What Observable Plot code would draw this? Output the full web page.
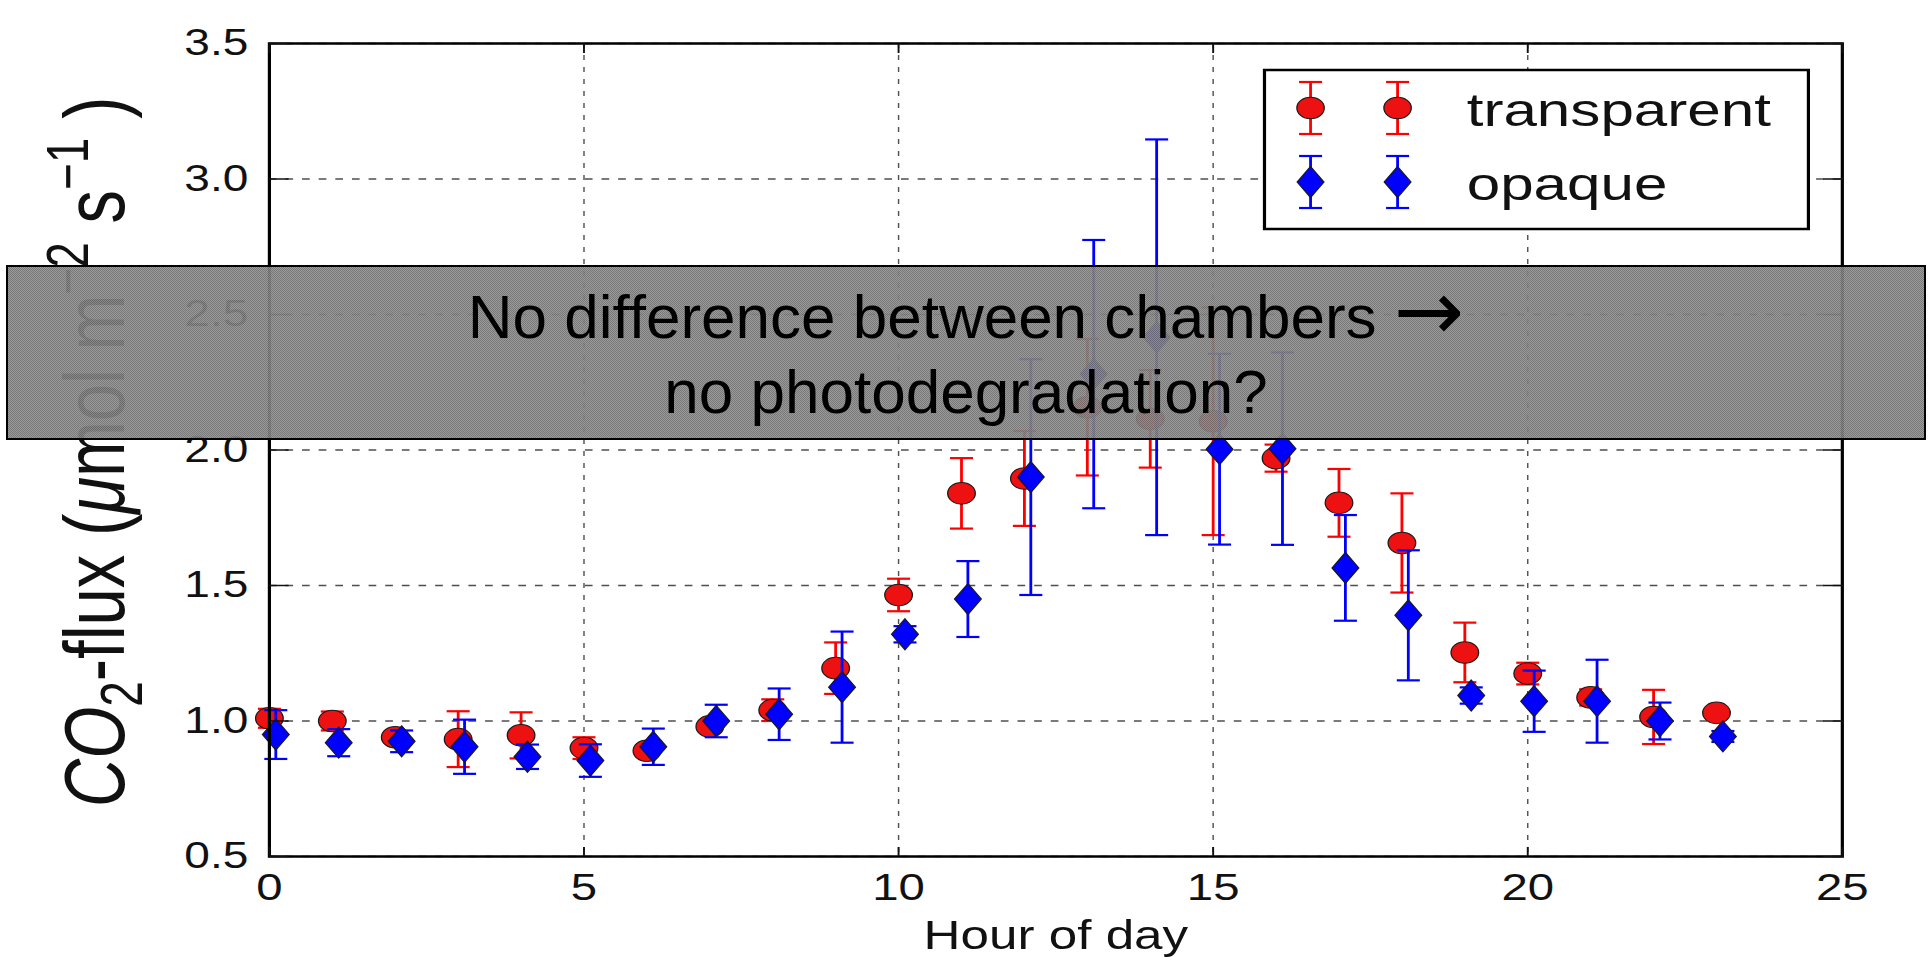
<!DOCTYPE html>
<html><head><meta charset="utf-8">
<script src="https://cdn.jsdelivr.net/npm/d3@7"></script>
<script src="https://cdn.jsdelivr.net/npm/@observablehq/plot@0.6"></script>
<style>
html,body{margin:0;padding:0;background:#fff;width:1930px;height:957px;overflow:hidden;}
#wrap{position:absolute;left:0;top:0;transform-origin:0 0;}
#note{position:absolute;left:6px;top:265px;width:1920px;height:175px;box-sizing:border-box;border:2px solid #000;
  background:repeating-conic-gradient(rgba(110,110,110,0.93) 0 25%, rgba(148,148,148,0.93) 0 50%) 0 0/2px 2px;
  font-family:"Liberation Sans",Arial,sans-serif;font-size:62px;line-height:75px;text-align:center;color:#000;padding-top:12px;}
#note .arrow{font-family:"DejaVu Sans",sans-serif;font-size:84px;line-height:0;vertical-align:-2px;}
</style></head><body>
<div id="wrap"></div>
<div id="note">No difference between chambers <span class="arrow">→</span><br>no photodegradation?</div>
<script>
// ---- data ----
const hours = [0,1,2,3,4,5,6,7,8,9,10,11,12,13,14,15,16,17,18,19,20,21,22,23];
const transparentMean = [1.01,1.00,0.94,0.933,0.947,0.90,0.89,0.98,1.04,1.195,1.465,1.84,1.895,2.158,2.115,2.106,1.97,1.805,1.657,1.253,1.175,1.087,1.015,1.03];
const transparentErr  = [0.035,0.035,0.02,0.103,0.085,0.04,0.02,0.02,0.04,0.095,0.06,0.13,0.175,0.252,0.18,0.42,0.05,0.125,0.183,0.11,0.04,0.03,0.10,0.02];
const opaqueMean = [0.95,0.92,0.925,0.905,0.868,0.854,0.905,1.0,1.025,1.125,1.32,1.45,1.9,2.28,2.416,2.003,2.005,1.565,1.39,1.094,1.073,1.073,1.0,0.943];
const opaqueErr  = [0.09,0.05,0.04,0.10,0.045,0.06,0.067,0.06,0.095,0.205,0.03,0.14,0.435,0.495,0.73,0.352,0.355,0.195,0.24,0.03,0.113,0.153,0.068,0.02];
const seriesNames = ["transparent","opaque"];
const xTicks = [0,5,10,15,20,25];
const yTicks = [0.5,1.0,1.5,2.0,2.5,3.0,3.5];
const xLabel = "Hour of day";

// ---- layout (chart drawn unstretched, then stretched horizontally like the source image) ----
const W = 1930, H = 957, STRETCH = 1.28;
const W0 = Math.round(W / STRETCH);
const sx = W / W0;
const RED = "#ff0000", REDFILL = "#ee1111", BLUE = "#0000ff";

const transparent = hours.map((h,i)=>({hour:h, mean:transparentMean[i], err:transparentErr[i]}));
const opaque = hours.map((h,i)=>({hour:h, mean:opaqueMean[i], err:opaqueErr[i]}));

const thinDiamond = {draw(ctx, size){const s=Math.sqrt(size/Math.PI);
  ctx.moveTo(0,-1.45*s); ctx.lineTo(0.98*s,0); ctx.lineTo(0,1.45*s); ctx.lineTo(-0.98*s,0); ctx.closePath();}};
const capLine = {draw(ctx, size){const s=Math.sqrt(size/Math.PI); ctx.moveTo(-s,0); ctx.lineTo(s,0);}};

function errorMarks(data, color, fill, symbol, dx){
  return [
    Plot.ruleX(data, {x:"hour", y1:d=>d.mean-d.err, y2:d=>d.mean+d.err, stroke:color, strokeWidth:2.2, dx}),
    Plot.dot(data, {x:"hour", y:d=>d.mean+d.err, symbol:capLine, r:9, stroke:color, fill:"none", strokeWidth:2.2, dx}),
    Plot.dot(data, {x:"hour", y:d=>d.mean-d.err, symbol:capLine, r:9, stroke:color, fill:"none", strokeWidth:2.2, dx}),
    Plot.dot(data, {x:"hour", y:"mean", symbol, r:symbol==="circle"?10.8:10.7, fill, stroke:"#1a1a1a", strokeWidth:1, dx})
  ];
}

const chart = Plot.plot({
  width: W0, height: H,
  marginLeft: 210, marginRight: 69, marginTop: 43, marginBottom: 101,
  x: {domain:[0,25]},
  y: {domain:[0.5,3.5]},
  style: {fontFamily:"'Liberation Sans', Arial, sans-serif", fontSize:"36px", color:"#111", background:"#fff", overflow:"visible"},
  marks: [
    Plot.gridX(xTicks, {stroke:"#222", strokeOpacity:0.8, strokeDasharray:"5,7", strokeWidth:1.1}),
    Plot.gridY(yTicks, {stroke:"#222", strokeOpacity:0.8, strokeDasharray:"6,7", strokeWidth:1.3}),
    ...errorMarks(transparent, RED, REDFILL, "circle", 0),
    ...errorMarks(opaque, BLUE, BLUE, thinDiamond, 5),
    Plot.frame({stroke:"#000", strokeWidth:2.5}),
    Plot.axisX(xTicks, {anchor:"bottom", tickSize:-9, tickPadding:26, strokeWidth:1.5, fontSize:37, label:null}),
    Plot.axisX(xTicks, {anchor:"bottom", tickSize:0, tickFormat:()=>"", fontSize:40,
      label:xLabel, labelAnchor:"center", labelArrow:"none", labelOffset:92}),
    Plot.axisX(xTicks, {anchor:"top", tickSize:-9, strokeWidth:1.5, tickFormat:()=>"", label:null}),
    Plot.axisY(yTicks, {anchor:"left", tickSize:-15.5, tickPadding:32, strokeWidth:1.5, fontSize:36,
      tickFormat:d3.format(".1f"), label:null}),
    Plot.axisY(yTicks, {anchor:"right", tickSize:-15.5, strokeWidth:1.5, tickFormat:()=>"", label:null})
  ]
});

const wrap = document.getElementById("wrap");
wrap.style.width = W0 + "px";
wrap.style.transform = `scaleX(${sx})`;
wrap.appendChild(chart);

const svg = d3.select(chart);

// y-axis label
const yl = svg.append("text")
  .attr("transform","translate(97,452) rotate(-90)")
  .attr("text-anchor","middle")
  .attr("font-size",67).attr("fill","#111");
yl.append("tspan").attr("font-style","italic").text("CO");
yl.append("tspan").attr("font-size",46).attr("dy",14).text("2");
yl.append("tspan").attr("dy",-14).text("-flux (");
yl.append("tspan").attr("font-style","italic").text("μ");
yl.append("tspan").text("mol m");
yl.append("tspan").attr("font-size",46).attr("dy",-28).text("−2");
yl.append("tspan").attr("dy",28).text(" s");
yl.append("tspan").attr("font-size",46).attr("dy",-28).text("−1");
yl.append("tspan").attr("dy",28).text(" )");

// legend
const lg = svg.append("g").attr("class","legend");
lg.append("rect").attr("x",988).attr("y",70).attr("width",425).attr("height",159)
  .attr("fill","#fff").attr("stroke","#000").attr("stroke-width",2.5);
const legendRows = [
  {name:seriesNames[0], y:108, color:RED, fill:REDFILL, sym:d3.symbolCircle},
  {name:seriesNames[1], y:182, color:BLUE, fill:BLUE, sym:thinDiamond}
];
const capPath = d3.symbol(capLine, Math.PI*9*9)();
legendRows.forEach(row=>{
  [1024,1092].forEach(mx=>{
    const g = lg.append("g").attr("transform",`translate(${mx},${row.y})`);
    g.append("line").attr("x1",0).attr("x2",0).attr("y1",-26).attr("y2",26).attr("stroke",row.color).attr("stroke-width",2.2);
    g.append("path").attr("d",capPath).attr("transform","translate(0,-26)").attr("stroke",row.color).attr("stroke-width",2.2).attr("fill","none");
    g.append("path").attr("d",capPath).attr("transform","translate(0,26)").attr("stroke",row.color).attr("stroke-width",2.2).attr("fill","none");
    g.append("path").attr("d",d3.symbol(row.sym, Math.PI*10.7*10.7)()).attr("fill",row.fill).attr("stroke","#1a1a1a").attr("stroke-width",1);
  });
  lg.append("text").attr("x",1146).attr("y",row.y).attr("dy","0.38em").attr("text-anchor","start")
    .attr("font-size",47).attr("fill","#111").text(row.name);
});
</script></body></html>
